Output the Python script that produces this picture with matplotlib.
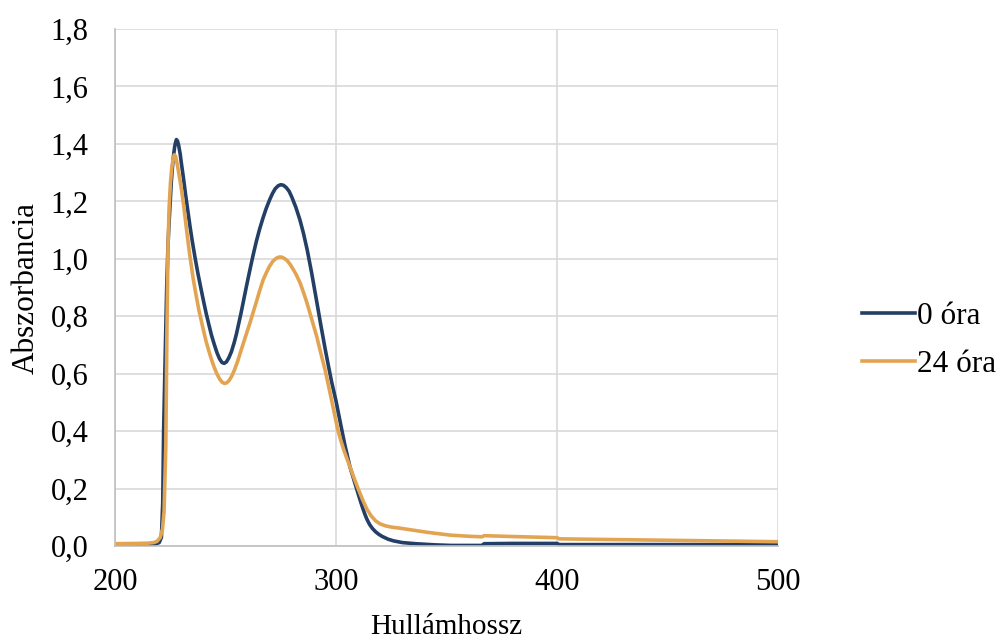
import matplotlib
matplotlib.use("Agg")
import matplotlib.pyplot as plt
from matplotlib.ticker import FuncFormatter, MultipleLocator

plt.rcParams['font.family'] = ['Liberation Serif', 'DejaVu Serif']

# 0 óra
wl_0 = [200, 210, 215, 218, 220, 221, 221.6, 222, 222.6, 223.4, 224, 224.5, 225, 225.5,
        226, 226.5, 227, 227.4, 227.8, 228.3, 228.8, 229.5, 230, 231, 232, 233, 234,
        235, 236.2, 237.5, 238.8, 240, 241.2, 242.5, 243.7, 245, 246.2, 247.3, 248.4,
        249.4, 250.4, 251.5, 252.7, 254, 255, 256, 257, 258, 259.5, 261, 262.5, 264,
        265.5, 267, 268.5, 270, 271.3, 272.5, 273.8, 275, 276.2, 277.5, 278.8, 280,
        281.8, 283.7, 285.3, 287, 289, 291.3, 293, 295, 296.5, 298, 300, 302, 304, 306.3,
        307.8, 309.3, 310.7, 312, 313, 314, 315.2, 316.5, 318, 319.5, 321, 323.5, 326,
        330, 336, 345, 352, 360, 366, 367, 380, 390, 400, 401, 420, 450, 470, 480, 500]
abs_0 = [0.004, 0.004, 0.004, 0.006, 0.012, 0.03, 0.15, 0.40, 0.62, 0.90, 1.05, 1.13,
         1.20, 1.27, 1.32, 1.36, 1.39, 1.405, 1.415, 1.41, 1.395, 1.365, 1.335, 1.28,
         1.22, 1.165, 1.11, 1.06, 1.005, 0.95, 0.90, 0.855, 0.812, 0.77, 0.733, 0.70,
         0.672, 0.652, 0.639, 0.636, 0.641, 0.655, 0.677, 0.71, 0.74, 0.775, 0.81, 0.848,
         0.905, 0.96, 1.013, 1.062, 1.105, 1.143, 1.177, 1.206, 1.228, 1.244, 1.254,
         1.258, 1.256, 1.248, 1.235, 1.215, 1.18, 1.135, 1.088, 1.03, 0.95, 0.85, 0.775,
         0.69, 0.63, 0.572, 0.505, 0.428, 0.352, 0.276, 0.238, 0.20, 0.165, 0.134, 0.112,
         0.093, 0.075, 0.061, 0.049, 0.04, 0.033, 0.024, 0.018, 0.012, 0.008, 0.004,
         0.002, 0.002, 0.002, 0.008, 0.009, 0.009, 0.009, 0.005, 0.005, 0.005, 0.005,
         0.005, 0.005]

# 24 óra
wl_24 = [200, 210, 215, 217.5, 219, 220.5, 221.5, 222.2, 223, 223.5, 224, 224.5, 225.1,
         225.6, 226.2, 226.8, 227.4, 228.2, 229.4, 230.2, 231, 232.4, 233.8, 235.4,
         236.7, 238, 240, 241.2, 242.5, 243.8, 245, 246.2, 247.3, 248.4, 249.5, 250.5,
         251.6, 252.8, 254, 255.5, 257, 259, 261, 262.5, 264, 265.5, 267, 268.5, 270,
         271.5, 273, 274.2, 275.4, 276.7, 278, 279.2, 280.5, 282, 283.7, 285.3, 287,
         289, 291.3, 293, 295, 296.5, 298, 299.5, 300.8, 302.2, 303.5, 305, 306.3, 308.2,
         310, 312, 314, 316, 318, 320, 322.5, 325, 329, 335, 342, 351.6, 360, 366, 367,
         380, 390, 400, 401, 420, 450, 480, 500]
abs_24 = [0.008, 0.009, 0.010, 0.012, 0.016, 0.03, 0.06, 0.12, 0.35, 0.75, 1.05, 1.18,
          1.265, 1.31, 1.345, 1.362, 1.357, 1.328, 1.274, 1.235, 1.19, 1.10, 1.015, 0.93,
          0.873, 0.82, 0.752, 0.713, 0.678, 0.646, 0.62, 0.598, 0.582, 0.571, 0.566,
          0.568, 0.576, 0.591, 0.612, 0.643, 0.68, 0.728, 0.775, 0.813, 0.851, 0.89,
          0.926, 0.952, 0.975, 0.992, 1.002, 1.006, 1.006, 1.001, 0.993, 0.981, 0.965,
          0.945, 0.917, 0.883, 0.843, 0.79, 0.729, 0.675, 0.615, 0.562, 0.508, 0.453,
          0.405, 0.367, 0.335, 0.303, 0.276, 0.236, 0.20, 0.162, 0.128, 0.104, 0.087,
          0.077, 0.07, 0.066, 0.062, 0.055, 0.047, 0.038, 0.034, 0.032, 0.036, 0.033,
          0.031, 0.029, 0.025, 0.023, 0.020, 0.017, 0.015]

fig = plt.figure(figsize=(10.06, 6.42), dpi=100)
ax = fig.add_axes([0.1143, 0.1495, 0.6591, 0.8053])

ax.plot(wl_0, abs_0, color='#243F66', lw=2.6, label='0 óra')
ax.plot(wl_24, abs_24, color='#E3A452', lw=2.6, label='24 óra')

ax.set_xlim(200, 500)
ax.set_ylim(0, 1.8)
ax.xaxis.set_major_locator(MultipleLocator(100))
ax.yaxis.set_major_locator(MultipleLocator(0.2))
ax.yaxis.set_major_formatter(FuncFormatter(lambda v, p: f"{v:.1f}".replace('.', ',')))

ax.grid(True, color='#D9D9D9', lw=1.2)
ax.set_axisbelow(True)
for s in ['top', 'right']:
    ax.spines[s].set_visible(False)
for s in ['left', 'bottom']:
    ax.spines[s].set_color('#BFBFBF')
    ax.spines[s].set_linewidth(1.2)
ax.tick_params(length=0, labelsize=22, colors='black')
ax.tick_params(axis='y', pad=19)
ax.tick_params(axis='x', pad=16)

ax.set_xlabel('Hullámhossz', fontsize=21, labelpad=12)
ax.set_ylabel('Abszorbancia', fontsize=22.5, labelpad=7)

fig.legend(loc='center left', bbox_to_anchor=(0.857, 0.47), frameon=False,
           fontsize=22.5, handlelength=1.7, handletextpad=0.05, labelspacing=0.6,
           borderpad=0, borderaxespad=0)

fig.savefig('out.png', dpi=100)
